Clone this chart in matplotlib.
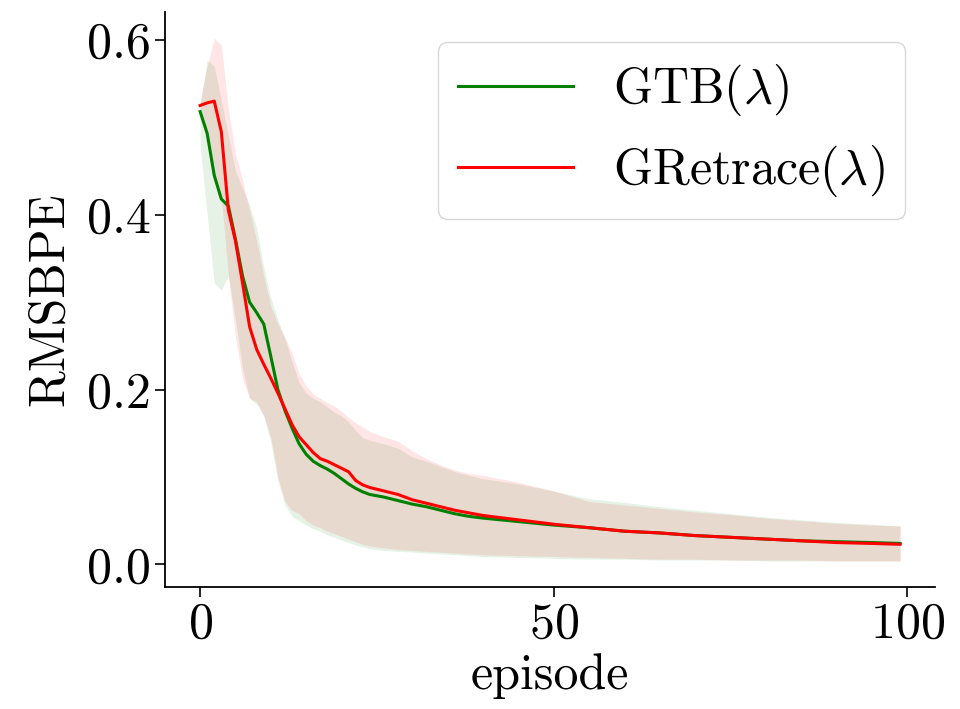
import matplotlib
matplotlib.use('Agg')
import matplotlib.pyplot as plt
import numpy as np

plt.rcParams['font.family'] = 'serif'
plt.rcParams['font.serif'] = ['cmr10']
plt.rcParams['mathtext.fontset'] = 'cm'
plt.rcParams['axes.formatter.use_mathtext'] = True

FONT_SIZE = 36

episodes = [0, 1, 2, 3, 4, 5, 6, 7, 8, 9, 10, 11, 12, 13, 14, 15, 16, 17, 18, 19,
            20, 21, 22, 23, 24, 26, 28, 30, 32, 34, 36, 38, 40,
            45, 50, 55, 60, 65, 70, 75, 80, 85, 90, 95, 99]

# GTB(lambda)
gtb_mean = [0.518, 0.493, 0.445, 0.418, 0.410, 0.372, 0.330, 0.300, 0.288, 0.275,
            0.238, 0.200, 0.176, 0.156, 0.138, 0.126, 0.118, 0.113, 0.109, 0.104,
            0.098, 0.092, 0.087, 0.083, 0.080, 0.077, 0.073, 0.069, 0.066, 0.062,
            0.058, 0.055, 0.053, 0.049, 0.045, 0.042, 0.038, 0.036, 0.033, 0.031,
            0.029, 0.027, 0.026, 0.025, 0.024]
gtb_upper = [0.525, 0.577, 0.570, 0.530, 0.490, 0.450, 0.430, 0.410, 0.385, 0.340,
             0.305, 0.280, 0.258, 0.232, 0.208, 0.196, 0.190, 0.186, 0.180, 0.174,
             0.170, 0.163, 0.153, 0.145, 0.142, 0.138, 0.133, 0.123, 0.118, 0.112,
             0.106, 0.102, 0.098, 0.092, 0.084, 0.075, 0.071, 0.066, 0.062, 0.058,
             0.054, 0.051, 0.048, 0.046, 0.044]
gtb_lower = [0.480, 0.400, 0.322, 0.314, 0.330, 0.280, 0.225, 0.190, 0.183, 0.170,
             0.140, 0.095, 0.068, 0.055, 0.050, 0.045, 0.041, 0.038, 0.034, 0.031,
             0.028, 0.025, 0.022, 0.020, 0.018, 0.016, 0.015, 0.014, 0.013, 0.012,
             0.011, 0.010, 0.009, 0.008, 0.007, 0.006, 0.006, 0.005, 0.005, 0.005,
             0.004, 0.004, 0.004, 0.004, 0.004]

# GRetrace(lambda)
gretrace_mean = [0.525, 0.528, 0.530, 0.495, 0.405, 0.370, 0.322, 0.272, 0.246, 0.229,
                 0.213, 0.196, 0.178, 0.160, 0.146, 0.137, 0.128, 0.121, 0.118, 0.114,
                 0.110, 0.106, 0.096, 0.091, 0.088, 0.084, 0.080, 0.074, 0.070, 0.066,
                 0.062, 0.059, 0.056, 0.051, 0.046, 0.042, 0.038, 0.036, 0.033, 0.031,
                 0.029, 0.027, 0.025, 0.024, 0.023]
gretrace_upper = [0.530, 0.570, 0.602, 0.594, 0.520, 0.470, 0.440, 0.405, 0.370, 0.330,
                  0.295, 0.275, 0.260, 0.242, 0.218, 0.204, 0.195, 0.190, 0.185, 0.181,
                  0.175, 0.168, 0.162, 0.157, 0.152, 0.146, 0.141, 0.130, 0.121, 0.114,
                  0.108, 0.104, 0.102, 0.094, 0.084, 0.072, 0.068, 0.064, 0.060, 0.057,
                  0.053, 0.050, 0.047, 0.045, 0.044]
gretrace_lower = [0.520, 0.480, 0.440, 0.420, 0.330, 0.260, 0.212, 0.190, 0.186, 0.170,
                  0.145, 0.100, 0.072, 0.062, 0.058, 0.050, 0.045, 0.042, 0.038, 0.035,
                  0.032, 0.029, 0.026, 0.023, 0.021, 0.019, 0.017, 0.016, 0.015, 0.014,
                  0.013, 0.012, 0.011, 0.010, 0.009, 0.008, 0.007, 0.006, 0.006, 0.005,
                  0.005, 0.005, 0.004, 0.004, 0.004]

curves = [
    (gtb_mean, gtb_lower, gtb_upper, 'green', r'GTB($\lambda$)'),
    (gretrace_mean, gretrace_lower, gretrace_upper, 'red', r'GRetrace($\lambda$)'),
]

fig = plt.figure(figsize=(9.6, 7.09), dpi=100)
ax = fig.add_axes([0.172, 0.172, 0.802, 0.811])

for mean, lower, upper, color, label in curves:
    ax.plot(episodes, mean, color=color, linewidth=2.2, label=label)
    ax.fill_between(episodes, lower, upper, color=color, alpha=0.1, linewidth=0)

ax.spines['top'].set_visible(False)
ax.spines['right'].set_visible(False)
for side in ['left', 'bottom']:
    ax.spines[side].set_linewidth(1.3)
ax.set_xticks([0, 50, 100])
ax.set_yticks([0.0, 0.2, 0.4, 0.6])
ax.yaxis.set_major_formatter(matplotlib.ticker.FormatStrFormatter('%.1f'))
ax.tick_params(labelsize=FONT_SIZE, length=7, width=1.2)
ax.set_xlabel('episode', fontsize=FONT_SIZE, labelpad=4)
ax.set_ylabel('RMSBPE', fontsize=FONT_SIZE, labelpad=10)
ax.legend(loc='upper right', fontsize=FONT_SIZE, handlelength=2.3,
          borderaxespad=0.6)

fig.savefig('out.png', dpi=100)
